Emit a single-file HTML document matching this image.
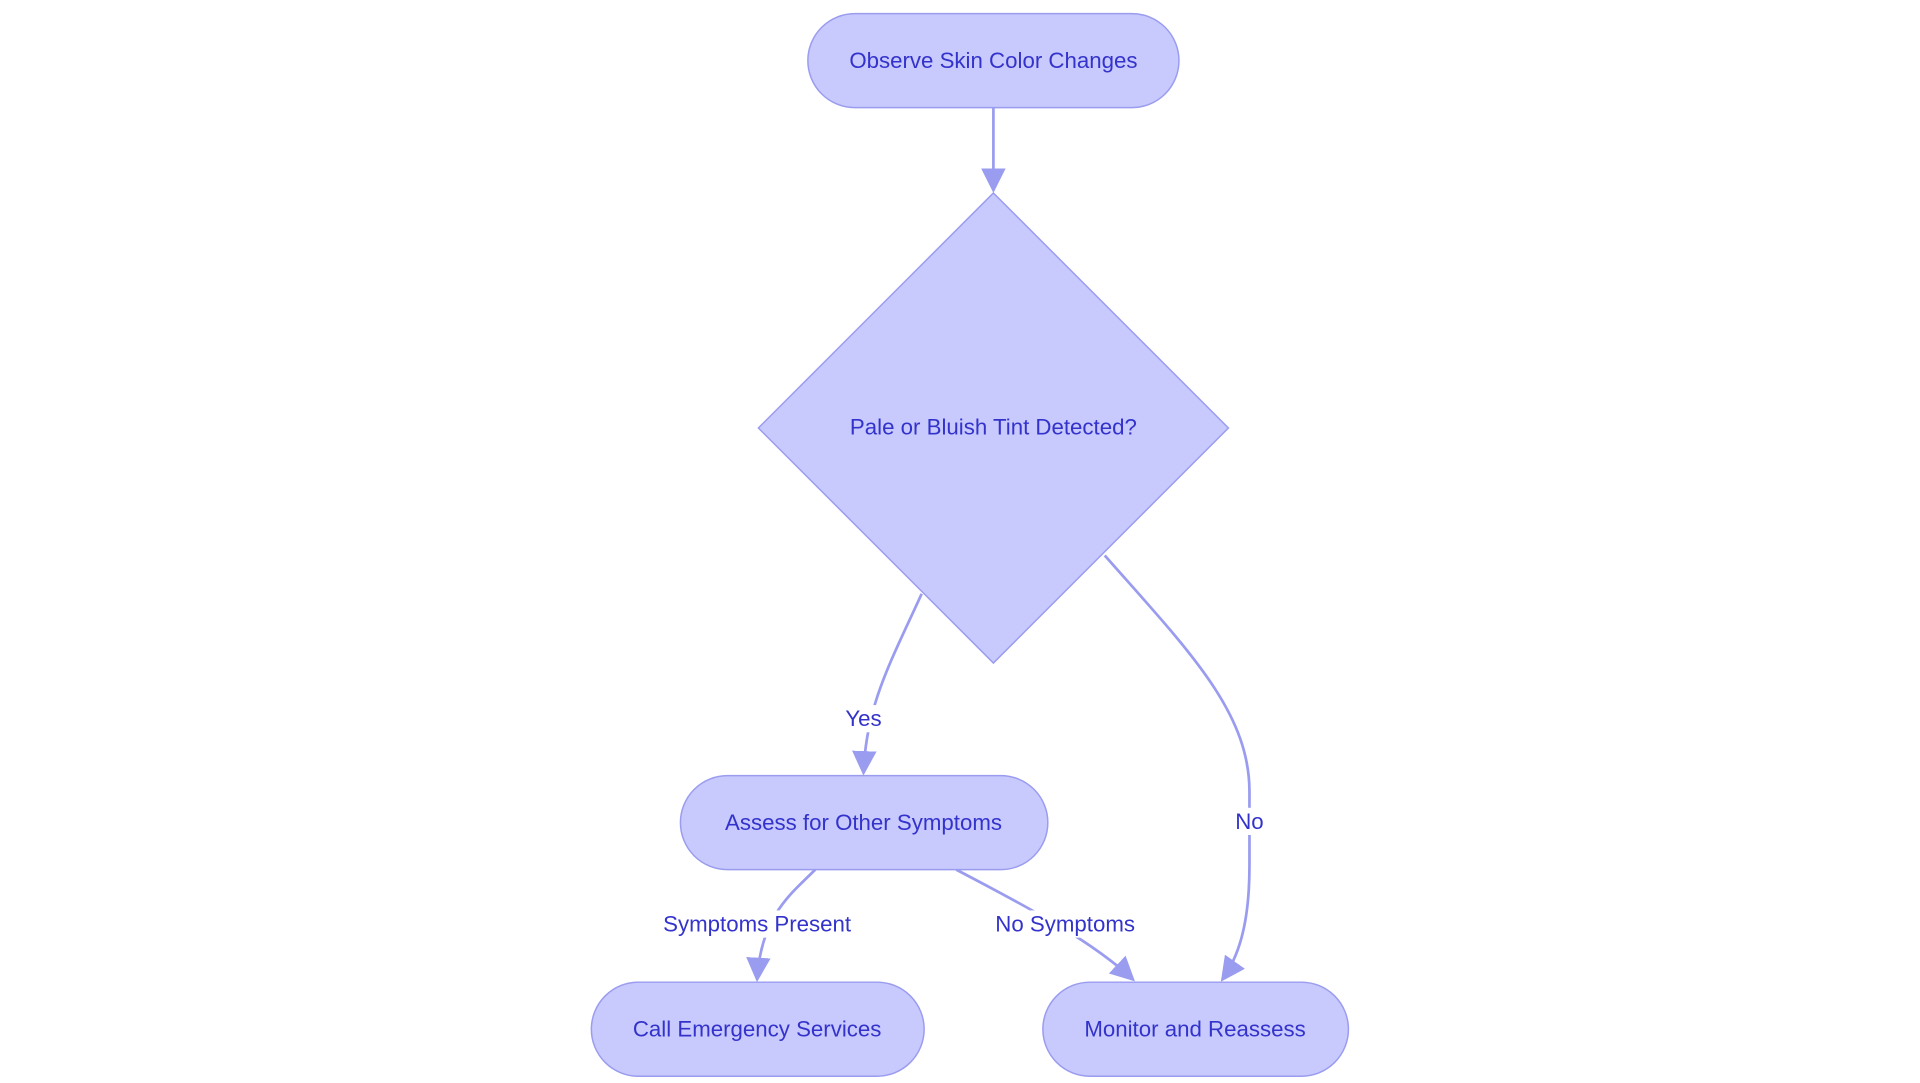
<!DOCTYPE html>
<html><head><meta charset="utf-8"><style>
html,body{margin:0;padding:0;background:#fff;width:1920px;height:1083px;overflow:hidden}
svg{display:block}
text{font-family:"Liberation Sans",sans-serif;font-size:18px;fill:#3333cc;text-anchor:middle;dominant-baseline:central}
.n{fill:#c8c9fd;stroke:#9a9cf0;stroke-width:1.2}
.e{fill:none;stroke:#9a9cf0;stroke-width:2.2}
.lb{fill:#fff}
</style></head><body>
<svg width="1920" height="1083" viewBox="0 0 1552 875.5">
<defs><marker id="a" viewBox="0 0 10 10" refX="9" refY="5" markerWidth="7" markerHeight="7" orient="auto" markerUnits="userSpaceOnUse"><path d="M0,0L10,5L0,10z" fill="#9a9cf0"/></marker>
<marker id="b" viewBox="0 0 10 10" refX="9" refY="5" markerWidth="9" markerHeight="9" orient="auto"><path d="M0,0L10,5L0,10z" fill="#9a9cf0"/></marker></defs>
<path class="e" d="M803,87 L803,154" marker-end="url(#b)"/>
<path class="e" d="M745,480 C720,535 700,570 698,625" marker-end="url(#b)"/>
<path class="e" d="M893,449 C960,525 1010,575 1010,640 L1010,700 C1010,750 1000,775 988,792" marker-end="url(#b)"/>
<path class="e" d="M659,703 C640,722 615,740 612,792" marker-end="url(#b)"/>
<path class="e" d="M773,703 C820,728 880,758 916,792" marker-end="url(#b)"/>
<rect class="n" x="653" y="11" width="300" height="76" rx="38"/>
<text x="803" y="49">Observe Skin Color Changes</text>
<polygon class="n" points="803,156 993,346 803,536 613,346"/>
<text x="803" y="345">Pale or Bluish Tint Detected?</text>
<rect class="n" x="550" y="627" width="297" height="76" rx="38"/>
<text x="698" y="665">Assess for Other Symptoms</text>
<rect class="n" x="478" y="794" width="269" height="76" rx="38"/>
<text x="612" y="832">Call Emergency Services</text>
<rect class="n" x="843" y="794" width="247" height="76" rx="38"/>
<text x="966" y="832">Monitor and Reassess</text>
<rect class="lb" x="682" y="570" width="34" height="22"/><text x="698" y="581">Yes</text>
<rect class="lb" x="997" y="653" width="27" height="22"/><text x="1010" y="664">No</text>
<rect class="lb" x="528" y="736" width="168" height="22"/><text x="612" y="747">Symptoms Present</text>
<rect class="lb" x="799" y="736" width="125" height="22"/><text x="861" y="747">No Symptoms</text>
</svg>
</body></html>
